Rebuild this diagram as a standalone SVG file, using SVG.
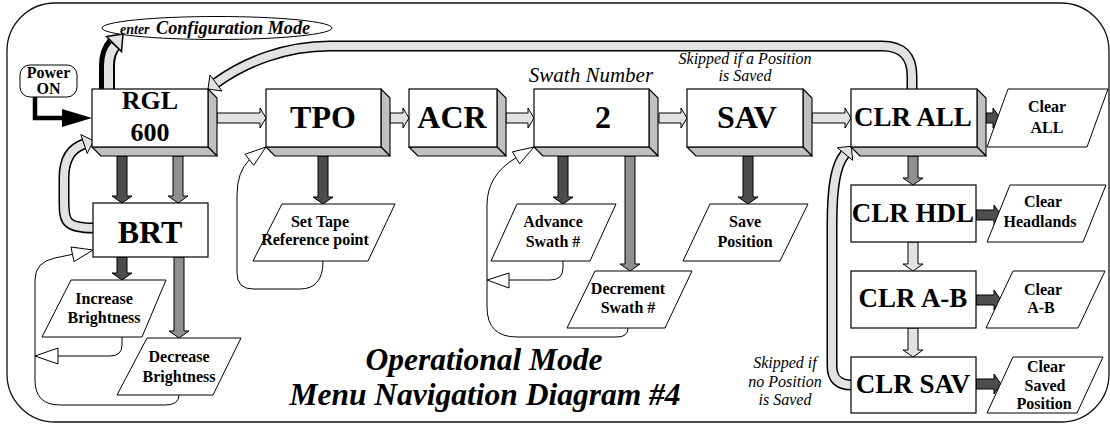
<svg xmlns="http://www.w3.org/2000/svg" width="1110" height="425" viewBox="0 0 1110 425">
  <style>
    .frame { fill: #fff; stroke: #111; stroke-width: 1.3; }
    .box { fill: #fff; stroke: #000; stroke-width: 1.2; }
    .side { fill: #c0c0c0; stroke: #000; stroke-width: 1.1; stroke-linejoin: round; }
    .io { fill: #fff; stroke: #000; stroke-width: 1; }
    .big { font-family: "Liberation Serif", "Times New Roman", serif; font-weight: bold; text-anchor: middle; fill: #000; }
    .lbl { font-family: "Liberation Serif", "Times New Roman", serif; font-weight: bold; font-size: 16px; text-anchor: middle; fill: #000; }
    .note { font-family: "Liberation Serif", "Times New Roman", serif; font-style: italic; font-size: 16px; text-anchor: middle; fill: #000; }
    .title { font-family: "Liberation Serif", "Times New Roman", serif; font-style: italic; font-weight: bold; font-size: 31.5px; text-anchor: middle; fill: #000; }
    .dark { fill: #4d4d4d; stroke: #000; stroke-width: 1; stroke-linejoin: miter; }
    .mid { fill: #8f8f8f; stroke: #000; stroke-width: 1; }
    .light { fill: #e2e2e2; stroke: #000; stroke-width: 1; }
    .thin { fill: none; stroke: #000; stroke-width: 1; }
    .hollow { fill: #fff; stroke: #000; stroke-width: 1; }
    .band-out { fill: none; stroke: #000; stroke-width: 11; }
    .band-in { fill: none; stroke: #e2e2e2; stroke-width: 8; }
  </style>

  <!-- outer rounded frame -->
  <rect class="frame" x="7" y="3" width="1102" height="419" rx="48" ry="48"/>

  <!-- connectors -->
  <g id="connectors">
    <!-- return loop: CLR ALL back to RGL 600 -->
    <path class="band-out" d="M912,89 V76 Q912,46 882,46 H330 C285,46 245,62 216,83"/>
    <path class="band-in" d="M912,90 V76 Q912,46 882,46 H330 C285,46 245,62 216,83"/>
    <polygon class="light" points="208,89 222,91 210,75"/>

    <!-- return loop: BRT back to RGL 600 -->
    <path class="band-out" d="M93,228 C64,228 64,220 64,200 V178 C64,158 72,148 84,144"/>
    <path class="band-in" d="M94,228 C64,228 64,220 64,200 V178 C64,158 72,148 84,144"/>
    <polygon class="light" points="93.5,140.8 87.2,153.5 80.8,134.5"/>

    <!-- return loop: CLR SAV back to CLR ALL -->
    <path class="band-out" d="M851,385 Q832,385 832,366 V225 C832,185 836,165 845,154"/>
    <path class="band-in" d="M852,385 Q832,385 832,366 V225 C832,185 836,165 845,154"/>
    <polygon class="light" points="851.3,146.3 852.7,160.3 837.3,147.7"/>

    <!-- RGL 600 to configuration mode -->
    <path fill="none" stroke="#000" stroke-width="16" d="M107,91 V66 Q107,52 114,44"/>
    <path fill="none" stroke="#e2e2e2" stroke-width="9" d="M108.5,91 V66 Q108.5,53 115,46"/>
    <polygon fill="#e2e2e2" stroke="#000" stroke-width="1.5" points="123,34 121.5,51.5 106.5,36.5"/>

    <!-- power on -->
    <path fill="none" stroke="#000" stroke-width="4.5" d="M35,97 V118 H64"/>
    <polygon fill="#000" points="62,109 92,118 62,127"/>

    <!-- main row -->
    <polygon class="light" points="217,113 260,113 260,108 266,118 260,128 260,123 217,123"/>
    <polygon class="light" points="390,113 403,113 403,108 409,118 403,128 403,123 390,123"/>
    <polygon class="light" points="506,113 528,113 528,108 534,118 528,128 528,123 506,123"/>
    <polygon class="light" points="659,113 681,113 681,108 687,118 681,128 681,123 659,123"/>
    <polygon class="light" points="812,113 845,113 845,108 851,118 845,128 845,123 812,123"/>

    <!-- down arrows -->
    <polygon class="dark" points="117,156 127,156 127,196 132,196 122,203 112,196 117,196"/>
    <polygon class="mid" points="173,156 183,156 183,196 188,196 178,203 168,196 173,196"/>
    <polygon class="dark" points="117,257 127,257 127,273 132,273 122,280 112,273 117,273"/>
    <polygon class="mid" points="174,257 184,257 184,331 189,331 179,338 169,331 174,331"/>
    <polygon class="dark" points="318,156 328,156 328,197 333,197 323,204 313,197 318,197"/>
    <polygon class="dark" points="558,156 568,156 568,197 573,197 563,204 553,197 558,197"/>
    <polygon class="mid" points="625,156 635,156 635,264 640,264 630,271 620,264 625,264"/>
    <polygon class="dark" points="743,156 753,156 753,197 758,197 748,204 738,197 743,197"/>
    <polygon class="mid" points="908,156 918,156 918,178 923,178 913,185 903,178 908,178"/>
    <polygon class="light" points="908,242 918,242 918,264 923,264 913,271 903,264 908,264"/>
    <polygon class="light" points="908,328 918,328 918,350 923,350 913,357 903,350 908,350"/>

    <!-- clear actions -->
    <polygon class="dark" points="986,113 993,113 993,108 1000,118 993,128 993,123 986,123"/>
    <polygon class="dark" points="976,210 994,210 994,205 1001,215 994,225 994,220 976,220"/>
    <polygon class="dark" points="976,295 994,295 994,290 1001,300 994,310 994,305 976,305"/>
    <polygon class="dark" points="976,379 994,379 994,374 1001,384 994,394 994,389 976,389"/>

    <!-- brightness loops -->
    <path class="thin" d="M122,337 V345 Q122,356 110,356 H58"/>
    <polygon class="hollow" points="35,356 58,348 58,364"/>
    <path class="thin" d="M179,395 Q179,405 165,405 H60 Q35,405 35,380 V280 Q35,262 55,258 L72.5,254.3"/>
    <polygon class="hollow" points="93,250 74,261.6 71,247"/>

    <!-- tape reference loop -->
    <path class="thin" d="M323,261 Q323,289 300,289 H253 Q237,289 237,273 V195 Q237,172 249.4,159.8"/>
    <polygon class="hollow" points="266,147 253.7,165.3 245.1,154.3"/>

    <!-- swath loops -->
    <path class="thin" d="M563,261 V268 Q563,280 550,280 H509"/>
    <polygon class="hollow" points="487,280 509,273 509,288"/>
    <path class="thin" d="M628,328 Q628,337 617,337 H517 Q487,337 487,307 V205 Q487,175 516,157.8"/>
    <polygon class="hollow" points="534,147 519.6,163.8 512.4,151.8"/>
  </g>

  <!-- entry points -->
  <g id="power-on">
    <rect class="io" x="20" y="65" width="57" height="32" rx="10" ry="10"/>
    <text class="lbl" x="48.5" y="78" font-size="15.5">Power</text>
    <text class="lbl" x="48.5" y="94" font-size="15.5">ON</text>
  </g>
  <g id="config-mode">
    <ellipse class="io" cx="217" cy="28" rx="115" ry="11.5"/>
    <text x="120" y="34" font-family="Liberation Serif, serif" font-style="italic" font-weight="bold" font-size="14">enter</text>
    <text x="156" y="34" font-family="Liberation Serif, serif" font-style="italic" font-weight="bold" font-size="18.2">Configuration Mode</text>
  </g>

  <!-- 3D menu boxes -->
  <g id="rgl600">
    <polygon class="side" points="208,89 217,98 217,156 208,147"/>
    <polygon class="side" points="92,147 208,147 217,156 101,156"/>
    <rect class="box" x="92" y="89" width="116" height="58"/>
    <text class="big" x="150" y="109" font-size="26">RGL</text>
    <text class="big" x="150" y="141" font-size="26">600</text>
  </g>
  <g id="tpo">
    <polygon class="side" points="381,89 390,98 390,156 381,147"/>
    <polygon class="side" points="266,147 381,147 390,156 275,156"/>
    <rect class="box" x="266" y="89" width="115" height="58"/>
    <text class="big" x="323" y="128" font-size="32">TPO</text>
  </g>
  <g id="acr">
    <polygon class="side" points="497,89 506,98 506,156 497,147"/>
    <polygon class="side" points="409,147 497,147 506,156 418,156"/>
    <rect class="box" x="409" y="89" width="88" height="58"/>
    <text class="big" x="452" y="128" font-size="32">ACR</text>
  </g>
  <g id="swath">
    <polygon class="side" points="649,89 658,98 658,156 649,147"/>
    <polygon class="side" points="534,147 649,147 658,156 543,156"/>
    <rect class="box" x="534" y="89" width="115" height="58"/>
    <text class="big" x="603" y="128" font-size="32">2</text>
    <text x="591" y="82" font-family="Liberation Serif, serif" font-style="italic" font-size="21" text-anchor="middle">Swath Number</text>
  </g>
  <g id="sav">
    <polygon class="side" points="803,89 812,98 812,156 803,147"/>
    <polygon class="side" points="687,147 803,147 812,156 696,156"/>
    <rect class="box" x="687" y="89" width="116" height="58"/>
    <text class="big" x="747" y="128" font-size="32">SAV</text>
    <text class="note" x="745" y="64">Skipped if a Position</text>
    <text class="note" x="745" y="81">is Saved</text>
  </g>
  <g id="clr-all">
    <polygon class="side" points="977,89 986,98 986,156 977,147"/>
    <polygon class="side" points="851,147 977,147 986,156 860,156"/>
    <rect class="box" x="851" y="89" width="126" height="58"/>
    <text class="big" x="913" y="126" font-size="27">CLR ALL</text>
  </g>

  <!-- flat menu boxes -->
  <g id="brt">
    <rect class="box" x="93" y="203" width="115" height="54"/>
    <text class="big" x="150" y="243" font-size="32">BRT</text>
  </g>
  <g id="clr-hdl">
    <rect class="box" x="851" y="185" width="125" height="57"/>
    <text class="big" x="913" y="222" font-size="27">CLR HDL</text>
  </g>
  <g id="clr-ab">
    <rect class="box" x="851" y="271" width="125" height="57"/>
    <text class="big" x="913" y="307" font-size="27">CLR A-B</text>
  </g>
  <g id="clr-sav">
    <rect class="box" x="851" y="357" width="125" height="56"/>
    <text class="big" x="913" y="393" font-size="27">CLR SAV</text>
    <text class="note" x="785" y="368">Skipped if</text>
    <text class="note" x="785" y="387">no Position</text>
    <text class="note" x="785" y="405">is Saved</text>
  </g>

  <!-- actions -->
  <g id="increase-brightness">
    <polygon class="io" points="42,337 71,280 166,280 142,337"/>
    <text class="lbl" x="104" y="304">Increase</text>
    <text class="lbl" x="104" y="323">Brightness</text>
  </g>
  <g id="decrease-brightness">
    <polygon class="io" points="117,395 147,338 241,338 213,395"/>
    <text class="lbl" x="179" y="362">Decrease</text>
    <text class="lbl" x="179" y="382">Brightness</text>
  </g>
  <g id="set-tape">
    <polygon class="io" points="253,261 282,204 395,204 368,261"/>
    <text class="lbl" x="320" y="227" font-size="17">Set Tape</text>
    <text class="lbl" x="315" y="245" font-size="17">Reference point</text>
  </g>
  <g id="advance-swath">
    <polygon class="io" points="491,261 517,204 616,204 590,261"/>
    <text class="lbl" x="553" y="227">Advance</text>
    <text class="lbl" x="553" y="247">Swath #</text>
  </g>
  <g id="decrement-swath">
    <polygon class="io" points="567,328 595,271 692,271 665,328"/>
    <text class="lbl" x="628" y="294">Decrement</text>
    <text class="lbl" x="628" y="313">Swath #</text>
  </g>
  <g id="save-position">
    <polygon class="io" points="683,261 710,204 808,204 780,261"/>
    <text class="lbl" x="745" y="227">Save</text>
    <text class="lbl" x="745" y="247">Position</text>
  </g>
  <g id="clear-all">
    <polygon class="io" points="987,147 1008,89 1108,89 1087,147"/>
    <text class="lbl" x="1047" y="112" font-size="17">Clear</text>
    <text class="lbl" x="1047" y="133" font-size="17">ALL</text>
  </g>
  <g id="clear-headlands">
    <polygon class="io" points="987,242 1010,185 1106,185 1083,242"/>
    <text class="lbl" x="1043" y="207" font-size="17">Clear</text>
    <text class="lbl" x="1040" y="227" font-size="17">Headlands</text>
  </g>
  <g id="clear-ab">
    <polygon class="io" points="986,328 1013,271 1105,271 1078,328"/>
    <text class="lbl" x="1043" y="295" font-size="17">Clear</text>
    <text class="lbl" x="1041" y="313" font-size="17">A-B</text>
  </g>
  <g id="clear-saved">
    <polygon class="io" points="987,413 1013,357 1103,357 1077,413"/>
    <text class="lbl" x="1046" y="372" font-size="17">Clear</text>
    <text class="lbl" x="1045" y="391" font-size="17">Saved</text>
    <text class="lbl" x="1044" y="409" font-size="17">Position</text>
  </g>

  <!-- caption -->
  <g id="caption">
    <text class="title" x="484" y="370">Operational Mode</text>
    <text class="title" x="485" y="405">Menu Navigation Diagram #4</text>
  </g>
</svg>
